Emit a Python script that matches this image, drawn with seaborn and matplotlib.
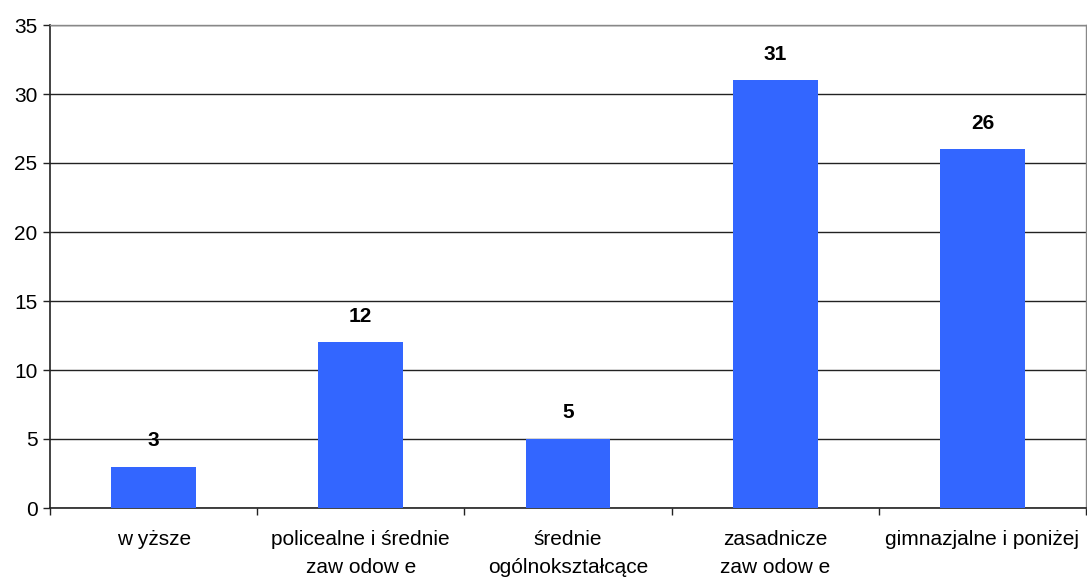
import matplotlib
matplotlib.use("Agg")
import matplotlib.pyplot as plt
import seaborn as sns
import pandas as pd

categories = ["w yższe", "policealne i średnie\nzaw odow e", "średnie\nogólnokształcące",
              "zasadnicze\nzaw odow e", "gimnazjalne i poniżej"]
values = [3, 12, 5, 31, 26]
yticks = [0, 5, 10, 15, 20, 25, 30, 35]

sns.set_theme(style="white")
plt.rcParams['font.family'] = ['Liberation Sans', 'DejaVu Sans']
plt.rcParams['text.color'] = 'black'
plt.rcParams['xtick.color'] = 'black'
plt.rcParams['ytick.color'] = 'black'

df = pd.DataFrame({"cat": categories, "val": values})

fig = plt.figure(figsize=(10.87, 5.78), dpi=100)
ax = fig.add_axes([50/1087, 1 - 508/578, 1036/1087, 483/578])
sns.barplot(data=df, x="cat", y="val", color="#3366FF", saturation=1, width=0.41,
            linewidth=0, edgecolor="none", ax=ax, zorder=3)

ax.set_ylim(0, 35)
ax.set_xlim(-0.5, len(categories) - 0.5)
ax.set_yticks(yticks)
ax.set_yticklabels([str(t) for t in yticks], fontsize=15)
ax.yaxis.grid(True, color="#222222", linewidth=1.0, zorder=0)
ax.set_axisbelow(True)

ax.set_xticks([i - 0.5 for i in range(len(categories) + 1)])
ax.set_xticklabels([""] * (len(categories) + 1))
ax.set_xticks(range(len(categories)), minor=True)
ax.set_xticklabels(categories, minor=True, fontsize=15, linespacing=1.6)
ax.tick_params(axis="x", which="major", length=5, width=1, color="#222222", direction="out", bottom=True)
ax.tick_params(axis="x", which="minor", length=0, pad=16)
ax.tick_params(axis="y", length=5, width=1, color="#222222", direction="out", left=True, pad=4)

ax.set_xlabel("")
ax.set_ylabel("")

for s in ["left", "bottom"]:
    ax.spines[s].set_color("#222222")
    ax.spines[s].set_linewidth(1.2)
for s in ["top", "right"]:
    ax.spines[s].set_color("#888888")
    ax.spines[s].set_linewidth(1.0)

for i, v in enumerate(values):
    ax.annotate(str(v), (i, v), xytext=(0, 12), textcoords="offset points",
                ha="center", va="bottom", fontsize=15, fontweight="bold")

fig.savefig("out.png", dpi=100)
